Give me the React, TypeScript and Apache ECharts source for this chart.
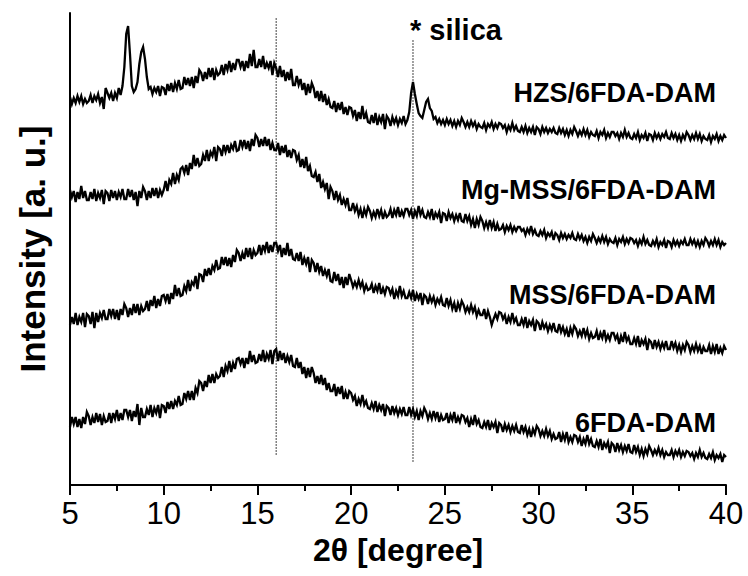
import React, { useEffect, useRef } from "react";
import * as echarts from "echarts";

// 2θ sampling grid (degrees), 5.0 … 40.0 step 0.1
const twoTheta: number[] = Array.from({ length: 351 }, (_, i) => Math.round((5 + i / 10) * 10) / 10);

// Offset intensities (a. u.), one row per degree (x.0 … x.9)
const hzs: number[] = [
  388,381,387,382,389,383,389,381,386,382,
  384,390,382,389,385,391,382,388,376,397,
  392,387,392,384,392,387,397,390,399,418,
  451,459,431,399,393,396,403,421,433,438,
  426,408,396,398,391,397,393,399,389,398,
  397,390,401,394,402,393,402,396,405,396,
  397,408,400,407,399,408,397,409,402,415,
  412,404,413,406,417,408,417,405,415,410,
  412,420,410,421,415,424,413,422,415,425,
  425,418,424,414,424,417,431,419,435,418,
  418,426,418,429,416,422,417,424,410,422,
  417,408,419,408,415,404,413,405,416,400,
  400,409,400,406,395,402,390,401,392,402,
  397,387,394,384,394,383,391,380,386,378,
  377,384,373,382,375,383,371,378,370,378,
  377,369,375,364,373,366,379,366,372,363,
  362,370,362,372,360,368,363,371,356,369,
  366,359,368,362,367,360,366,362,369,361,
  365,373,392,403,391,381,372,369,367,375,
  383,386,377,374,366,368,362,366,361,365,
  360,366,361,365,359,364,358,364,360,367,
  363,358,363,358,364,359,363,356,361,358,
  357,362,355,361,358,363,356,361,357,362,
  361,357,360,353,359,355,362,355,359,354,
  353,358,353,359,352,357,353,358,350,358,
  356,351,358,353,357,352,356,353,357,352,
  351,357,352,356,350,355,349,355,351,358,
  354,349,354,350,356,350,355,348,353,350,
  349,354,347,353,350,355,347,352,348,353,
  353,349,352,346,352,348,355,348,352,347,
  346,351,347,353,345,350,347,352,344,351,
  350,345,352,347,351,346,351,348,353,347,
  346,352,347,351,345,350,344,350,346,353,
  350,345,350,346,352,346,351,344,349,346,
  345,350,343,349,346,351,344,349,345,350,
  347,
];

const mgMss: number[] = [
  295,288,294,283,293,286,299,287,294,285,
  285,293,286,296,284,292,287,295,281,294,
  292,284,295,287,294,285,293,288,296,286,
  286,296,288,295,285,293,279,294,287,298,
  294,285,294,287,297,289,297,287,295,290,
  295,304,294,305,301,312,301,310,305,316,
  318,312,320,310,322,316,330,319,327,319,
  321,330,324,335,324,333,329,338,324,338,
  336,329,340,333,340,332,340,336,344,334,
  335,345,338,345,336,344,334,346,339,350,
  347,338,346,339,348,339,346,335,342,335,
  335,342,330,339,332,340,328,335,327,335,
  334,325,330,318,326,317,328,314,319,309,
  308,313,303,311,297,303,296,302,286,298,
  294,285,294,285,290,280,286,280,287,275,
  275,282,274,279,270,276,267,276,270,278,
  274,267,273,268,276,269,275,266,273,268,
  270,276,267,275,270,278,268,274,269,276,
  276,270,275,266,274,269,279,270,275,268,
  267,273,268,276,265,272,268,273,262,272,
  271,264,273,267,271,264,270,265,272,264,
  263,271,264,269,260,266,257,266,260,268,
  264,257,263,257,265,257,263,254,261,255,
  256,260,253,259,255,260,253,258,254,258,
  258,254,256,250,256,252,259,251,255,250,
  249,254,250,255,247,252,249,253,245,252,
  250,245,252,247,251,246,250,247,252,246,
  245,251,246,250,244,248,242,248,244,251,
  247,242,247,243,249,243,248,241,246,243,
  242,247,240,246,243,248,241,246,242,247,
  246,242,245,239,245,241,248,241,245,240,
  239,244,240,246,238,243,240,245,237,244,
  243,238,245,240,244,239,244,241,246,240,
  240,246,241,245,239,244,238,244,240,247,
  244,239,244,240,246,240,245,238,243,240,
  242,
];

const mss: number[] = [
  160,168,161,172,160,168,163,172,158,171,
  169,161,173,157,172,163,172,167,175,166,
  166,176,169,176,166,175,165,176,170,181,
  177,168,177,170,181,172,181,170,179,174,
  176,184,174,185,179,189,177,186,179,189,
  190,184,191,181,192,186,200,189,197,189,
  190,199,194,205,194,203,200,209,196,211,
  210,203,216,209,217,210,219,215,225,216,
  217,228,220,228,219,227,218,230,223,235,
  232,224,232,226,237,228,237,226,235,230,
  232,240,230,240,234,243,232,240,233,242,
  242,234,240,228,237,230,242,229,236,226,
  225,232,224,233,220,227,221,228,213,225,
  222,213,222,213,219,209,215,209,216,204,
  203,213,204,211,200,208,197,208,200,211,
  205,198,203,198,205,198,203,194,200,195,
  196,201,192,199,194,202,191,197,191,198,
  197,191,196,186,194,189,199,189,194,187,
  187,193,187,195,184,191,186,192,180,190,
  188,181,189,183,188,180,186,182,188,180,
  179,187,179,185,176,182,173,182,176,184,
  180,173,178,173,180,173,178,169,175,170,
  170,176,166,174,168,160,166,171,166,173,
  172,166,170,161,168,163,172,163,167,160,
  160,166,160,168,157,164,160,165,154,164,
  162,155,163,157,161,154,160,155,162,154,
  153,161,153,158,151,156,148,157,151,159,
  156,149,154,149,157,149,155,146,152,147,
  148,154,145,152,147,155,145,150,145,152,
  152,146,150,141,149,143,153,144,148,141,
  141,147,141,149,138,145,141,146,135,145,
  143,136,145,138,143,136,142,137,144,136,
  136,144,137,142,134,140,133,140,135,143,
  140,133,139,134,141,134,139,131,138,134,
  134,140,131,139,133,141,131,137,132,139,
  135,
];

const fdaDam: number[] = [
  58,68,61,68,58,66,57,68,61,73,
  69,60,68,62,72,63,71,60,69,63,
  64,72,62,72,66,75,64,72,65,75,
  75,68,75,64,74,68,81,60,77,68,
  68,76,70,80,68,77,72,80,67,80,
  79,72,83,76,84,76,84,80,89,80,
  81,92,86,94,85,94,85,97,92,104,
  102,94,104,98,110,102,111,102,111,107,
  109,118,108,119,114,124,113,122,116,126,
  127,121,127,117,127,121,134,123,130,122,
  123,131,124,135,123,131,126,135,121,134,
  136,124,134,125,132,122,129,123,130,119,
  118,127,117,123,111,118,107,117,108,118,
  112,102,109,101,110,100,107,95,102,94,
  94,101,89,98,91,99,86,93,86,94,
  92,85,89,79,86,81,90,80,84,77,
  76,82,76,84,73,80,75,81,69,79,
  77,70,79,72,77,70,76,71,78,70,
  70,78,70,76,68,74,65,74,69,77,
  73,66,72,66,74,67,73,63,70,65,
  66,72,62,70,65,73,62,68,63,70,
  69,63,67,58,66,60,70,61,65,58,
  57,63,58,65,55,62,58,63,52,62,
  60,53,61,55,60,53,59,54,60,53,
  52,60,53,58,50,56,48,56,51,59,
  56,49,54,49,56,49,54,46,51,46,
  47,53,43,51,45,53,43,48,43,50,
  49,43,48,39,46,41,50,41,46,39,
  38,44,38,46,35,42,38,43,32,42,
  40,33,42,35,40,33,39,34,41,33,
  32,40,33,38,30,36,29,36,31,39,
  35,30,35,31,37,30,35,28,33,30,
  30,35,28,34,30,35,28,33,29,34,
  33,29,32,26,32,28,35,28,32,27,
  26,31,27,33,25,30,27,31,23,30,
  28,
];

const seriesNames = ["HZS/6FDA-DAM", "Mg-MSS/6FDA-DAM", "MSS/6FDA-DAM", "6FDA-DAM"];
const seriesValues = [hzs, mgMss, mss, fdaDam];

// reference (dotted) vertical lines: position and vertical extent in a. u.
const refLineX = [16, 23.3];
const refLineY0 = [30, 23];
const refLineY1 = [467, 445];

const xTicks = [5, 10, 15, 20, 25, 30, 35, 40];

const FONT = "'Liberation Sans', Arial, Helvetica, sans-serif";

export default function App() {
  const ref = useRef<HTMLDivElement>(null);
  useEffect(() => {
    if (!ref.current) return;
    const chart = echarts.init(ref.current, undefined, { renderer: "svg" });
    const lineSeries = seriesValues.map((vals, k) => ({
      type: "line",
      name: seriesNames[k],
      data: twoTheta.map((x, i) => [x, vals[i]]),
      showSymbol: false,
      symbol: "none",
      lineStyle: { color: "#000", width: 2.3, join: "miter", miterLimit: 4 },
      z: 3,
    }));
    const refSeries = refLineX.map((x, k) => ({
      type: "line",
      data: [
        [x, refLineY0[k]],
        [x, refLineY1[k]],
      ],
      showSymbol: false,
      symbol: "none",
      lineStyle: { color: "#444", width: 1, type: [2, 1] },
      z: 2,
    }));
    const labelStyle = { fontSize: 27, fontWeight: "bold", fontFamily: FONT, fill: "#000", align: "right", verticalAlign: "middle" };
    chart.setOption({
      animation: false,
      backgroundColor: "#fff",
      textStyle: { fontFamily: FONT },
      grid: { left: 70, right: 22, top: 13, bottom: 91, containLabel: false, outerBoundsMode: "none" },
      xAxis: {
        type: "value",
        min: xTicks[0],
        max: xTicks[xTicks.length - 1],
        interval: 5,
        name: "2θ [degree]",
        nameLocation: "middle",
        nameGap: 48,
        nameTextStyle: { fontSize: 32, fontWeight: "bold", color: "#000", fontFamily: FONT },
        axisLine: { show: true, onZero: false, lineStyle: { color: "#000", width: 2 } },
        axisTick: { show: true, length: 10, lineStyle: { color: "#000", width: 2 } },
        minorTick: { show: true, splitNumber: 2, length: 6, lineStyle: { color: "#000", width: 2 } },
        axisLabel: { fontSize: 31, color: "#000", margin: 13, fontFamily: FONT },
        splitLine: { show: false },
      },
      yAxis: {
        type: "value",
        min: 0,
        max: 472,
        name: "Intensity [a. u.]",
        nameLocation: "middle",
        nameGap: 20,
        nameTextStyle: { fontSize: 35, fontWeight: "bold", color: "#000", fontFamily: FONT },
        axisLine: { show: true, lineStyle: { color: "#000", width: 2 } },
        axisTick: { show: false },
        axisLabel: { show: false },
        splitLine: { show: false },
      },
      graphic: [
        { type: "text", x: 716, y: 93, style: { ...labelStyle, text: seriesNames[0] } },
        { type: "text", x: 716, y: 190, style: { ...labelStyle, text: seriesNames[1] } },
        { type: "text", x: 716, y: 295, style: { ...labelStyle, text: seriesNames[2] } },
        { type: "text", x: 716, y: 423, style: { ...labelStyle, text: seriesNames[3] } },
        { type: "text", x: 410, y: 30, style: { text: "* silica", fontSize: 29, fontWeight: "bold", fontFamily: FONT, fill: "#000", align: "left", verticalAlign: "middle" } },
      ],
      series: [...refSeries, ...lineSeries],
    });
    return () => chart.dispose();
  }, []);
  return (
    <div
      ref={ref}
      style={{ position: "absolute", left: 0, top: 0, width: 748, height: 576, background: "#fff" }}
    />
  );
}
